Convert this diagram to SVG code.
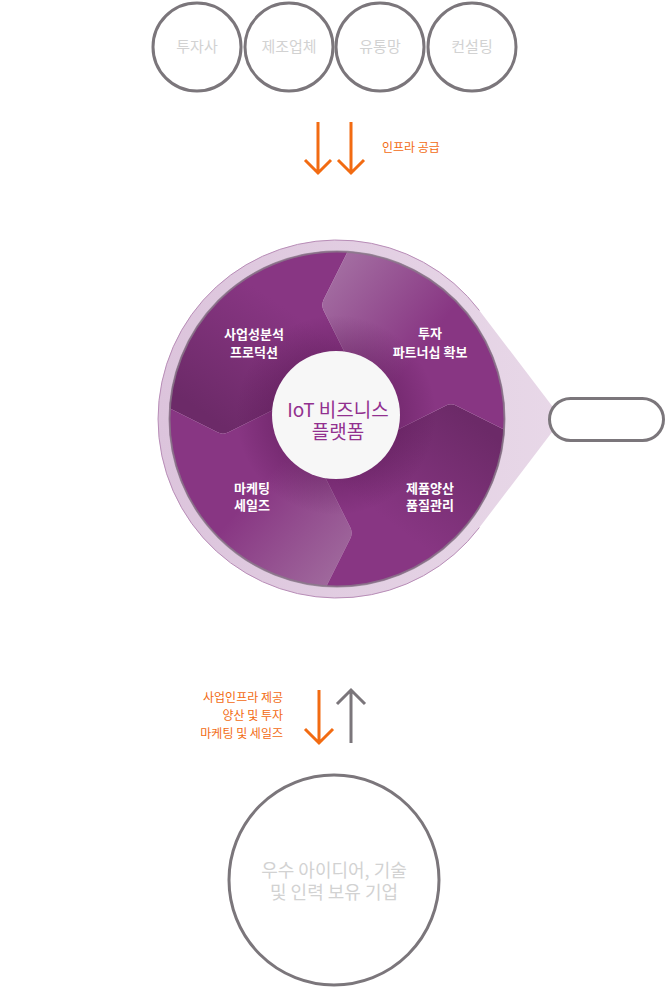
<svg xmlns="http://www.w3.org/2000/svg" width="670" height="987" viewBox="0 0 670 987">
<style>
text{font-family:"Noto Sans CJK KR","Noto Sans",sans-serif}
.node{fill:#ffffff;stroke:#7b767b;stroke-width:3}
.ghost{fill:#d2d2d2;font-size:15px;text-anchor:middle}
.big{fill:#d2d2d2;font-size:18px;text-anchor:middle}
.seg{fill:#ffffff;font-size:13px;font-weight:bold;text-anchor:middle}
.or{fill:none;stroke:#f26b12;stroke-width:3}
.gr{fill:none;stroke:#7b767b;stroke-width:3}
.olab{fill:#f26b12;font-size:12px}
</style>
<defs>
<linearGradient id="tear" x1="0" y1="0" x2="1" y2="0">
<stop offset="0" stop-color="#dcc4dc"/>
<stop offset="1" stop-color="#e8d8e8"/>
</linearGradient>
<linearGradient id="gTR" gradientUnits="userSpaceOnUse" x1="-5" y1="-140" x2="85" y2="-70">
<stop offset="0" stop-color="#a26ba0"/>
<stop offset="1" stop-color="#883683"/>
</linearGradient>
<linearGradient id="gTL" gradientUnits="userSpaceOnUse" x1="-125" y1="0" x2="-50" y2="-110">
<stop offset="0" stop-color="#6c2a68"/>
<stop offset="1" stop-color="#883683"/>
</linearGradient>
<linearGradient id="gBL" gradientUnits="userSpaceOnUse" x1="10" y1="150" x2="-80" y2="70">
<stop offset="0" stop-color="#a06a9d"/>
<stop offset="1" stop-color="#883683"/>
</linearGradient>
<linearGradient id="gBR" gradientUnits="userSpaceOnUse" x1="135" y1="0" x2="55" y2="105">
<stop offset="0" stop-color="#6c2a68"/>
<stop offset="1" stop-color="#883683"/>
</linearGradient>
<radialGradient id="inner" gradientUnits="userSpaceOnUse" cx="-1" cy="-4" r="100">
<stop offset="0.62" stop-color="#4e1049" stop-opacity="0.3"/>
<stop offset="1" stop-color="#4e1049" stop-opacity="0"/>
</radialGradient>
<clipPath id="disk"><circle cx="0" cy="0" r="168"/></clipPath>
</defs>

<g id="top-nodes">
<g id="n-investor"><circle class="node" cx="197" cy="47" r="44"/><text class="ghost" x="197" y="52">투자사</text></g>
<g id="n-maker"><circle class="node" cx="289" cy="47" r="44"/><text class="ghost" x="289" y="52">제조업체</text></g>
<g id="n-dist"><circle class="node" cx="380" cy="47" r="44"/><text class="ghost" x="380" y="52">유통망</text></g>
<g id="n-consult"><circle class="node" cx="472" cy="47" r="44"/><text class="ghost" x="472" y="52">컨설팅</text></g>
</g>

<g id="wheel" transform="translate(337,419)">
<path d="M142.4,-108.5 L225,0 L142.4,108.5 A179,179 0 1,1 142.4,-108.5 Z" fill="url(#tear)"/>
<path d="M142.4,108.5 A179,179 0 1,1 142.4,-108.5" fill="none" stroke="#b88db7" stroke-width="1"/>
<g clip-path="url(#disk)">
<path fill="url(#gTL)" d="M0,0 L12,-58 L-13.3,-108.6 Q-16,-114 -13.3,-119.4 L20,-186 L-260,-260 L-186,-20 L-119.4,13.3 Q-114,16 -108.6,13.3 L-58,-12 Z"/>
<path fill="url(#gBL)" d="M0,0 L-58,-12 L-108.6,13.3 Q-114,16 -119.4,13.3 L-186,-20 L-260,260 L-20,186 L13.3,119.4 Q16,114 13.3,108.6 L-12,58 Z"/>
<path fill="url(#gBR)" d="M0,0 L-12,58 L13.3,108.6 Q16,114 13.3,119.4 L-20,186 L260,260 L186,20 L119.4,-13.3 Q114,-16 108.6,-13.3 L58,12 Z"/>
<path fill="url(#gTR)" d="M0,0 L58,12 L108.6,-13.3 Q114,-16 119.4,-13.3 L186,20 L260,-260 L20,-186 L-13.3,-119.4 Q-16,-114 -13.3,-108.6 L12,-58 Z"/>
<circle cx="-1" cy="-4" r="100" fill="url(#inner)"/>
</g>
<circle cx="0" cy="0" r="167.5" fill="none" stroke="#8a7a8a" stroke-width="2" opacity="0.8"/>
<circle cx="-1" cy="-4" r="64" fill="#f7f7f7"/>
<text x="1" y="-2" fill="#92308f" font-size="19" text-anchor="middle">IoT 비즈니스</text>
<text x="1" y="20" fill="#92308f" font-size="19" text-anchor="middle">플랫폼</text>
<text class="seg" x="-83" y="-80">사업성분석</text>
<text class="seg" x="-83" y="-62">프로덕션</text>
<text class="seg" x="93" y="-81">투자</text>
<text class="seg" x="93" y="-62">파트너십 확보</text>
<text class="seg" x="-85" y="74">마케팅</text>
<text class="seg" x="-85" y="91">세일즈</text>
<text class="seg" x="93" y="74">제품양산</text>
<text class="seg" x="93" y="91">품질관리</text>
</g>

<g id="n-pill"><rect class="node" x="549.5" y="398.5" width="114" height="42" rx="21"/></g>

<g id="n-company"><circle class="node" cx="334" cy="880" r="105"/>
<text class="big" x="334" y="877">우수 아이디어, 기술</text>
<text class="big" x="334" y="899">및 인력 보유 기업</text></g>

<g id="connectors">
<path class="or" d="M318,122 V173 M305,160 L318,173 L331,160"/>
<path class="or" d="M351,122 V173 M338,160 L351,173 L364,160"/>
<text class="olab" x="382" y="152">인프라 공급</text>
<path class="or" d="M319,690 V743 M305,729 L319,743 L333,729"/>
<path class="gr" d="M351,743 V690 M337,704 L351,690 L365,704"/>
<text class="olab" x="283" y="702" text-anchor="end">사업인프라 제공</text>
<text class="olab" x="283" y="720" text-anchor="end">양산 및 투자</text>
<text class="olab" x="283" y="738" text-anchor="end">마케팅 및 세일즈</text>
</g>
</svg>
